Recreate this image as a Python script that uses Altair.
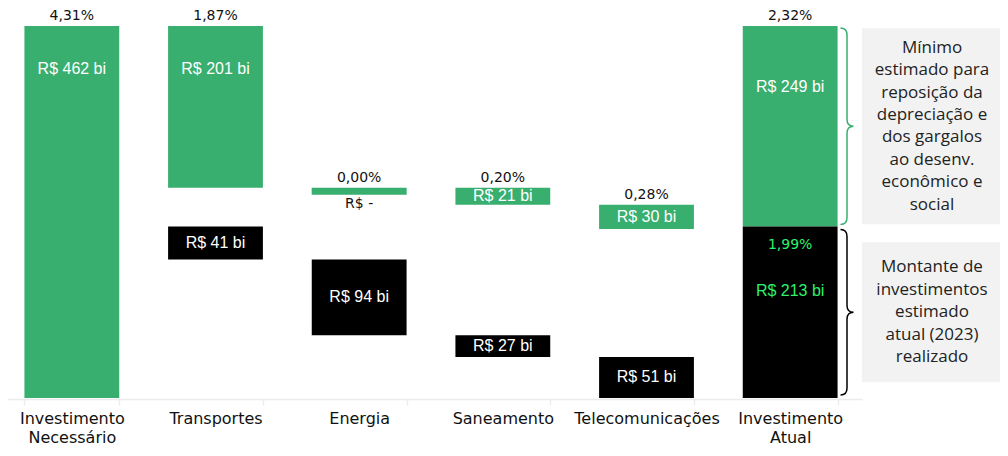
import altair as alt
import pandas as pd

# ---------------- data ----------------
categories = ["Investimento Necessário", "Transportes", "Energia", "Saneamento",
              "Telecomunicações", "Investimento Atual"]
gap_values = [462, 201, 0, 21, 30, 249]          # R$ bi (green: gap / needed)
current_values = [0, 41, 94, 27, 51, 213]        # R$ bi (black: current investment)
gap_pct = ["4,31%", "1,87%", "0,00%", "0,20%", "0,28%", "2,32%"]
current_pct = "1,99%"
gap_labels = ["R$ 462 bi", "R$ 201 bi", "R$ -", "R$ 21 bi", "R$ 30 bi", "R$ 249 bi"]
current_labels = ["", "R$ 41 bi", "R$ 94 bi", "R$ 27 bi", "R$ 51 bi", "R$ 213 bi"]
note_gap_lines = ["Mínimo", "estimado para", "reposição da", "depreciação e",
                  "dos gargalos", "ao desenv.", "econômico e", "social"]
note_current_lines = ["Montante de", "investimentos", "estimado", "atual (2023)", "realizado"]

# ---------------- styles ----------------
GREEN = "#38ae6f"
BLACK = "#000000"
BRIGHT = "#2ef26c"
BOX = "#f2f2f2"
AXIS_FONT = "DejaVu Sans"
VALUE_FONT = "Liberation Sans"
NOTE_FONT = "Open Sans"
W, H = 992, 372
NOTE_LH = 22.4

need_total = gap_values[0]
cur_total = current_values[-1]

# ---------------- build waterfall tables ----------------
bars, labels = [], []
c0 = categories[0]
bars.append({"cat": c0, "kind": "gap", "start": 0, "end": need_total})
labels.append({"cat": c0, "y": need_total, "text": gap_pct[0], "style": "pct"})
labels.append({"cat": c0, "y": need_total, "text": gap_labels[0], "style": "top"})

gap_top, cur_top = need_total, cur_total
for i in range(1, len(categories) - 1):
    c = categories[i]
    g0, g1 = gap_top, gap_top - gap_values[i]
    k0, k1 = cur_top, cur_top - current_values[i]
    gap_top, cur_top = g1, k1
    bars.append({"cat": c, "kind": "gap", "start": g0, "end": g1})
    bars.append({"cat": c, "kind": "cur", "start": k0, "end": k1})
    labels.append({"cat": c, "y": g0, "text": gap_pct[i], "style": "pct"})
    if gap_values[i] == 0:
        labels.append({"cat": c, "y": g0, "text": gap_labels[i], "style": "zero"})
    elif gap_values[i] > 100:
        labels.append({"cat": c, "y": g0, "text": gap_labels[i], "style": "top"})
    else:
        labels.append({"cat": c, "y": (g0 + g1) / 2, "text": gap_labels[i], "style": "mid"})
    labels.append({"cat": c, "y": (k0 + k1) / 2, "text": current_labels[i], "style": "mid"})

cl = categories[-1]
bars.append({"cat": cl, "kind": "gap", "start": cur_total, "end": cur_total + gap_values[-1]})
bars.append({"cat": cl, "kind": "cur", "start": 0, "end": cur_total})
labels.append({"cat": cl, "y": cur_total + gap_values[-1], "text": gap_pct[-1], "style": "pct"})
labels.append({"cat": cl, "y": cur_total + gap_values[-1], "text": gap_labels[-1], "style": "top2"})
labels.append({"cat": cl, "y": cur_total, "text": current_pct, "style": "curpct"})
labels.append({"cat": cl, "y": cur_total, "text": current_labels[-1], "style": "curval"})

bars_df = pd.DataFrame(bars)
labels_df = pd.DataFrame(labels)
one = pd.DataFrame({"k": [0]})

# ---------------- encodings ----------------
x_scale = alt.Scale(domain=categories, range=[-8, 854], paddingInner=0.34, paddingOuter=0.17)
y_scale = alt.Scale(domain=[0, need_total], nice=False, zero=True)

X = alt.X("cat:N", sort=categories, scale=x_scale,
          axis=alt.Axis(title=None, labelAngle=0, labelFont=AXIS_FONT, labelFontSize=16,
                        labelColor="#111111", labelLineHeight=19,
                        labelExpr="split(datum.label, ' ')",
                        domainColor="#ececec", domainWidth=1.5, tickColor="#ececec",
                        tickWidth=1.5, tickSize=6, tickBand="extent", labelPadding=5,
                        offset=1))

bar_layer = alt.Chart(bars_df).mark_bar(cornerRadius=0).encode(
    x=X,
    y=alt.Y("start:Q", scale=y_scale, axis=None),
    y2="end:Q",
    color=alt.Color("kind:N", scale=alt.Scale(domain=["gap", "cur"], range=[GREEN, BLACK]),
                    legend=None),
)

zero_layer = alt.Chart(bars_df).transform_filter(
    "datum.kind == 'gap' && datum.start == datum.end"
).mark_tick(color=GREEN, thickness=7, size=95, yOffset=3.5, opacity=1).encode(
    x=X, y=alt.Y("start:Q", scale=y_scale, axis=None)
)


def text_layer(style, **kw):
    return alt.Chart(labels_df).transform_filter(alt.datum.style == style).mark_text(**kw).encode(
        x=X, y=alt.Y("y:Q", scale=y_scale, axis=None), text="text:N"
    )


layers = [
    bar_layer,
    zero_layer,
    text_layer("pct", font=AXIS_FONT, fontSize=14, color="#111111", baseline="alphabetic", dy=-6),
    text_layer("top", font=VALUE_FONT, fontSize=16, color="white", baseline="middle", dy=43),
    text_layer("top2", font=VALUE_FONT, fontSize=16, color="white", baseline="middle", dy=61),
    text_layer("mid", font=VALUE_FONT, fontSize=16, color="white", baseline="middle"),
    text_layer("zero", font=AXIS_FONT, fontSize=14, color="#111111", baseline="middle", dy=16),
    text_layer("curpct", font=AXIS_FONT, fontSize=14, color=BRIGHT, baseline="middle", dy=19),
    text_layer("curval", font=VALUE_FONT, fontSize=16, color=BRIGHT, baseline="middle", dy=65),
]


# ---------------- braces + notes ----------------
def ypx(v):
    return H * (1 - v / need_total)


def brace_path(h_px, half_w=6.5, r=7.0):
    a = half_w / (h_px / 2)
    rr = r / (h_px / 2)
    return (f"M {-a:.4f} -1 Q 0 -1 0 {-1 + rr:.4f} L 0 {-rr:.4f} Q 0 0 {a:.4f} 0 "
            f"Q 0 0 0 {rr:.4f} L 0 {1 - rr:.4f} Q 0 1 {-a:.4f} 1")


gap_mid = cur_total + gap_values[-1] / 2
cur_mid = cur_total / 2
h1 = ypx(cur_total) - ypx(need_total) - 4
h2 = ypx(0) - ypx(cur_total) - 6
BRACE_X = 839

for mid, h, col in [(gap_mid, h1, GREEN), (cur_mid, h2, BLACK)]:
    layers.append(
        alt.Chart(one).mark_point(shape=brace_path(h), filled=False, strokeWidth=1.5,
                                  size=h * h, color=col, opacity=1).encode(
            x=alt.value(BRACE_X), y=alt.Y(datum=mid, type="quantitative", scale=y_scale, axis=None)
        )
    )

notes = [(gap_mid, 196, note_gap_lines), (cur_mid, 140, note_current_lines)]
for mid, hbox, lines in notes:
    cy = ypx(mid)
    layers.append(
        alt.Chart(one).mark_rect(color=BOX).encode(
            x=alt.value(854), x2=alt.value(992),
            y=alt.value(cy - hbox / 2), y2=alt.value(cy + hbox / 2)
        )
    )
for mid, hbox, lines in notes:
    cy = ypx(mid)
    y_first = cy - (len(lines) - 1) / 2 * NOTE_LH
    layers.append(
        alt.Chart(one).mark_text(text=lines, font=NOTE_FONT, fontSize=17, lineHeight=NOTE_LH,
                                 color="#222222", align="center", baseline="middle").encode(
            x=alt.value(924), y=alt.value(y_first)
        )
    )

chart = alt.layer(*layers).properties(
    width=W, height=H,
    padding={"left": 0, "top": 18, "right": 0, "bottom": 50},
    autosize=alt.AutoSizeParams(type="none"),
    background="white",
).configure_view(stroke=None)

chart.save("out.html", embed_options={"renderer": "svg", "actions": False})
